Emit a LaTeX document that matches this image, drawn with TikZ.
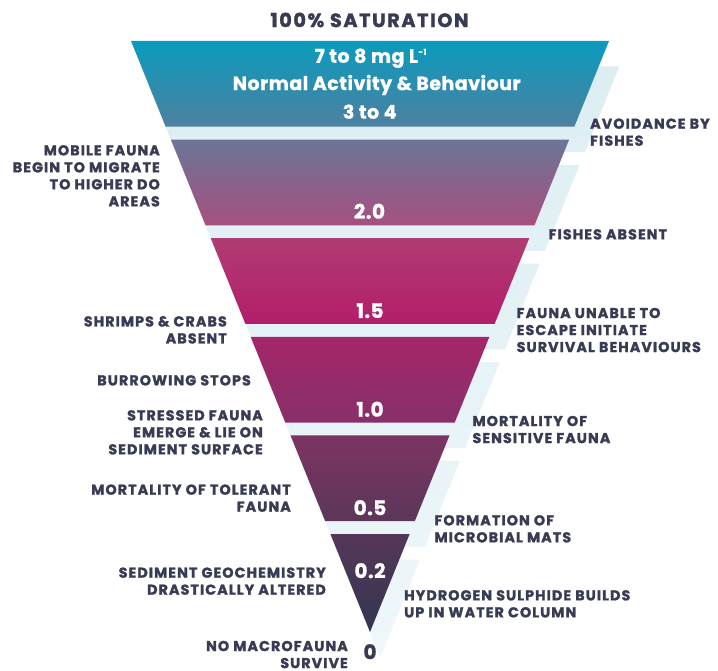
\documentclass[tikz,border=0pt]{standalone}
\usepackage{fontspec}
\setmainfont{Poppins}
\newfontfamily\lblfont{Poppins}[LetterSpace=7.5,FakeBold=1.5]
\newfontfamily\ttlfont{Poppins}[LetterSpace=8,FakeBold=1.5]
\newfontfamily\wfont{Poppins}[LetterSpace=2.5,FakeBold=1]
\definecolor{txt}{HTML}{383B53}
\definecolor{shTop}{HTML}{DCEEF3}
\definecolor{shBot}{HTML}{EFF7FA}
\definecolor{aT}{HTML}{0A9BBD}\definecolor{aM}{HTML}{0A8AAD}\definecolor{aB}{HTML}{4E80A0}
\definecolor{bT}{HTML}{6B7596}\definecolor{bM}{HTML}{8A6690}\definecolor{bB}{HTML}{A6507F}
\definecolor{cT}{HTML}{B03C73}\definecolor{cM}{HTML}{C4156C}\definecolor{cB}{HTML}{B21E6A}
\definecolor{dT}{HTML}{A5266A}\definecolor{dM}{HTML}{972A67}\definecolor{dB}{HTML}{87306A}
\definecolor{eT}{HTML}{7D3462}\definecolor{eM}{HTML}{6C355E}\definecolor{eB}{HTML}{5B3759}
\definecolor{fT}{HTML}{553758}\definecolor{fM}{HTML}{443656}\definecolor{fB}{HTML}{323651}
\newcommand\Lx[1]{{131+0.404399*(#1-41)}}
\newcommand\Rx[1]{{609-0.404399*(#1-41)}}
\newcommand\bandp[2]{(\Lx{#1},#1) -- (\Rx{#1},#1) -- (\Rx{#2},#2) -- (\Lx{#2},#2) -- cycle}
\tikzset{
  lbl/.style={font=\lblfont\fontsize{14.3}{17}\selectfont\bfseries, text=txt, inner sep=0pt},
  lblL/.style={lbl, align=right, anchor=north east},
  lblR/.style={lbl, align=left, anchor=north west},
  wnum/.style={font=\wfont\fontsize{20}{24}\selectfont\bfseries, text=white, inner sep=0pt},
  wtxt/.style={font=\wfont\fontsize{19}{23}\selectfont\bfseries, text=white, inner sep=0pt},
}
\begin{document}
\begin{tikzpicture}[x=1pt,y=-1pt]
\useasboundingbox[fill=white] (0,0) rectangle (718,671);
% shadow copy
\begin{scope}[shift={(10.3,25.5)}]
  \clip \bandp{41}{126.7} \bandp{139.6}{225.3} \bandp{238.2}{323.9}
        \bandp{336.8}{422.5} \bandp{435.4}{521.1}
        (\Lx{534},534) -- (\Rx{534},534) -- (370,632) -- cycle;
  \shade[top color=shTop, bottom color=shBot] (120,30) rectangle (620,640);
\end{scope}
% main bands
\shade[top color=aT, middle color=aM, bottom color=aB] \bandp{41}{126.7};
\shade[top color=bT, middle color=bM, bottom color=bB] \bandp{139.6}{225.3};
\shade[top color=cT, middle color=cM, bottom color=cB] \bandp{238.2}{323.9};
\shade[top color=dT, middle color=dM, bottom color=dB] \bandp{336.8}{422.5};
\shade[top color=eT, middle color=eM, bottom color=eB] \bandp{435.4}{521.1};
\shade[top color=fT, middle color=fM, bottom color=fB] (\Lx{534},534) -- (\Rx{534},534) -- (370,632) -- cycle;
% title and band texts
\node[lbl, font=\ttlfont\fontsize{19.3}{23}\selectfont\bfseries] (title) at (369.5,20) {100\% SATURATION};
\node[wtxt] (t1) at (370.5,58.3) {7 to 8 mg L\kern0.5pt\raisebox{8pt}{\fontsize{8}{8}\selectfont -1}};
\node[wtxt] (t2) at (376.7,85) {Normal Activity \& Behaviour};
\node[wtxt] (t3) at (369.7,111.7) {3 to 4};
\node[wnum] (n20) at (369.5,211.3) {2.0};
\node[wnum] (n15) at (370,310.7) {1.5};
\node[wnum] (n10) at (370,409.3) {1.0};
\node[wnum] (n05) at (370,507.7) {0.5};
\node[wnum] (n02) at (370,570.7) {0.2};
\node[wnum, text=txt] (n0) at (370,651.7) {0};
% left labels
\node[lblL] (L1) at (160,145) {MOBILE FAUNA\\BEGIN TO MIGRATE\\TO HIGHER DO\\AREAS};
\node[lblL] (L2) at (227,316) {SHRIMPS \& CRABS\\ABSENT};
\node[lblL] (L3) at (251,375) {BURROWING STOPS};
\node[lblL] (L4) at (263,410) {STRESSED FAUNA\\EMERGE \& LIE ON\\SEDIMENT SURFACE};
\node[lblL] (L5) at (291,484.3) {MORTALITY OF TOLERANT\\FAUNA};
\node[lblL] (L6) at (326,567.3) {SEDIMENT GEOCHEMISTRY\\DRASTICALLY ALTERED};
\node[lblL] (L7) at (348,640.7) {NO MACROFAUNA\\SURVIVE};
% right labels
\node[lblR] (R1) at (590,118.3) {AVOIDANCE BY\\FISHES};
\node[lblR] (R2) at (548.5,229) {FISHES ABSENT};
\node[lblR] (R3) at (516.5,307.7) {FAUNA UNABLE TO\\ESCAPE INITIATE\\SURVIVAL BEHAVIOURS};
\node[lblR] (R4) at (472.3,415.7) {MORTALITY OF\\SENSITIVE FAUNA};
\node[lblR] (R5) at (434.3,515) {FORMATION OF\\MICROBIAL MATS};
\node[lblR] (R6) at (404,590) {HYDROGEN SULPHIDE BUILDS\\UP IN WATER COLUMN};
\end{tikzpicture}
\end{document}
